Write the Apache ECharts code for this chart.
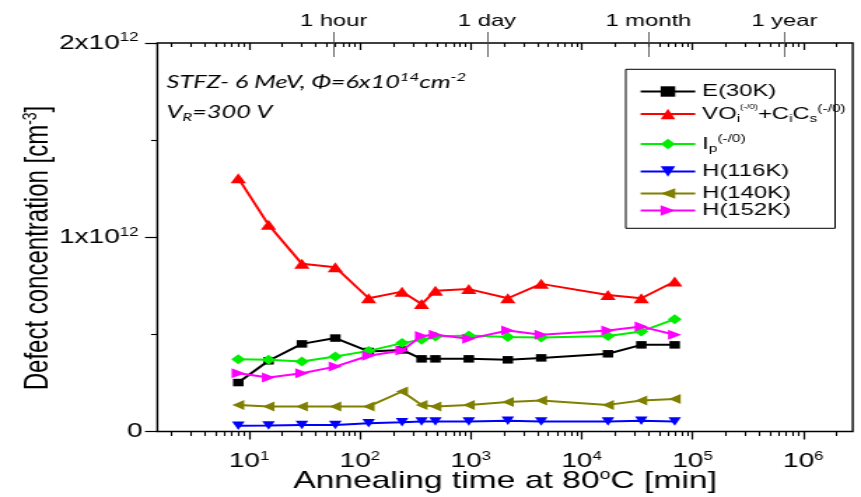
<!DOCTYPE html>
<html><head><meta charset="utf-8">
<script src="https://cdn.jsdelivr.net/npm/echarts@6/dist/echarts.min.js"></script>
<style>
html,body{margin:0;padding:0;background:#fff;overflow:hidden;}
#wrap{width:861px;height:497px;overflow:hidden;background:#fff;}
#chart{width:615px;height:497px;transform:scaleX(1.4);transform-origin:0 0;}
</style></head>
<body><div id="wrap"><div id="chart"></div></div>
<script>
// ---------- data ----------
const timesMin = [8, 15, 30, 60, 120, 240, 360, 480, 960, 2160, 4320, 17280, 34560, 69120];
// concentrations in units of 1e12 cm^-3
const E30K   = [0.252, 0.364, 0.451, 0.481, 0.412, 0.420, 0.374, 0.374, 0.374, 0.369, 0.379, 0.400, 0.446, 0.446];
const VOiCiCs= [1.304, 1.064, 0.863, 0.846, 0.686, 0.720, 0.656, 0.724, 0.733, 0.686, 0.760, 0.703, 0.686, 0.772];
const Ip     = [0.372, 0.369, 0.360, 0.386, 0.415, 0.455, 0.472, 0.489, 0.494, 0.487, 0.484, 0.492, 0.515, 0.578];
const H116K  = [0.029, 0.031, 0.034, 0.034, 0.043, 0.048, 0.051, 0.051, 0.051, 0.055, 0.051, 0.051, 0.055, 0.051];
const H140K  = [0.137, 0.129, 0.129, 0.129, 0.129, 0.206, 0.137, 0.129, 0.137, 0.152, 0.160, 0.137, 0.160, 0.167];
const H152K  = [0.300, 0.278, 0.300, 0.334, 0.390, 0.417, 0.492, 0.498, 0.477, 0.520, 0.498, 0.520, 0.540, 0.498];

const seriesNames = ['E(30K)', 'VOi+CiCs', 'Ip', 'H(116K)', 'H(140K)', 'H(152K)'];
const legendLabels = [
  'E(30K)',
  'VO{sub|i}{sups|(-/0)}+C{sub|i}C{sub|s}{sup|(-/0)}',
  'I{sub|p}{sup|(-/0)}',
  'H(116K)', 'H(140K)', 'H(152K)'
];
const xTickExponents = [1, 2, 3, 4, 5, 6];
const yTickValues = [0, 1, 2];           // x 1e12
const markerNames = ['1 hour', '1 day', '1 month', '1 year'];
const markerMinutes = [58, 1400, 40000, 675000];
const xRangeMin = 1.49, xRangeMax = 2.79e6;

// ---------- chart ----------
const F = 'Liberation Sans, Arial, sans-serif';
const log = Math.log10;
const xMinLog = log(xRangeMin), xMaxLog = log(xRangeMax);
const minorLogs = [];
for (let e = 0; e <= 6; e++) for (let m = 2; m <= 9; m++) {
  const v = log(m * Math.pow(10, e));
  if (v > xMinLog && v < xMaxLog) minorLogs.push(v);
}
const markerLogs = markerMinutes.map(log);

const colors = ['#000000', '#ff0000', '#00ee00', '#0000ff', '#808000', '#ff00ff'];
const symbols = ['rect', 'triangle', 'diamond', 'triangle', 'triangle', 'triangle'];
const rotates = [0, 0, 0, 180, 90, -90];
const sizes = [[7.5, 7.5], [11, 10], [10, 10], [9, 8.5], [10, 8.5], [10, 9.5]];
const values = [E30K, VOiCiCs, Ip, H116K, H140K, H152K];

const legendTops = [83, 103, 133, 163, 185, 202];

const xRich = {
  b: {fontFamily: F, fontSize: 20, color: '#000'},
  sup: {fontFamily: F, fontSize: 12, color: '#000', padding: [0, 0, 10, 0]}
};
const yRich = {
  b: {fontFamily: F, fontSize: 20, color: '#000'},
  sup: {fontFamily: F, fontSize: 12, color: '#000', padding: [0, 3, 10, 0]}
};

function xAxisBase(extra) {
  return Object.assign({
    type: 'value', min: xMinLog, max: xMaxLog, gridIndex: 0,
    axisLine: {show: false, onZero: false},
    splitLine: {show: false},
    axisLabel: {show: false},
    axisTick: {show: false}
  }, extra);
}

const option = {
  animation: false,
  backgroundColor: '#fff',
  grid: {left: 112.4, right: 5.9, top: 43, bottom: 65.5, show: true,
         outerBoundsMode: 'none', containLabel: false,
         borderColor: '#000', borderWidth: 1.4, backgroundColor: 'transparent'},
  xAxis: [
    xAxisBase({position: 'bottom',
      name: '{t|Annealing time at 80}{s|o}{t|C [min]}', nameLocation: 'middle', nameGap: 37,
      nameMoveOverlap: false,
      nameTextStyle: {rich: {t: {fontFamily: F, fontSize: 24, color: '#000'},
                             s: {fontFamily: F, fontSize: 14, color: '#000', padding: [0, 0, 12, 0]}}},
      axisTick: {show: true, customValues: xTickExponents, length: 8, inside: false,
                 lineStyle: {color: '#000', width: 1.2}},
      axisLabel: {show: true, customValues: xTickExponents, margin: 19, rich: xRich,
                  formatter: v => '{b|10}{sup|' + Math.round(v) + '}'}}),
    xAxisBase({position: 'bottom',
      axisTick: {show: true, customValues: minorLogs, length: 4.5, inside: false,
                 lineStyle: {color: '#000', width: 1.1}}}),
    xAxisBase({position: 'top',
      axisTick: {show: true, customValues: xTickExponents, length: 7, inside: true,
                 lineStyle: {color: '#000', width: 1.2}}}),
    xAxisBase({position: 'top',
      axisTick: {show: true, customValues: minorLogs, length: 4, inside: true,
                 lineStyle: {color: '#000', width: 1.1}}}),
    xAxisBase({position: 'top',
      axisTick: {show: true, customValues: markerLogs, length: 11, inside: false,
                 lineStyle: {color: '#444', width: 0.8}},
      axisLabel: {show: true, customValues: markerLogs, margin: 13,
                  fontFamily: F, fontSize: 17, color: '#000',
                  formatter: v => {
                    let best = 0;
                    markerLogs.forEach((m, i) => { if (Math.abs(m - v) < Math.abs(markerLogs[best] - v)) best = i; });
                    return markerNames[best];
                  }}}),
    xAxisBase({position: 'top',
      axisTick: {show: true, customValues: markerLogs, length: 14, inside: true,
                 lineStyle: {color: '#444', width: 0.8}}})
  ],
  yAxis: [{
    type: 'value', min: 0, max: 2, interval: 1, position: 'left',
    axisLine: {show: false},
    splitLine: {show: false},
    axisTick: {show: true, length: 8.8, inside: false, lineStyle: {color: '#000', width: 1.2}},
    minorTick: {show: true, splitNumber: 2, length: 4.5, lineStyle: {color: '#000', width: 1.1}},
    minorSplitLine: {show: false},
    axisLabel: {margin: 10.5, rich: yRich,
      formatter: v => v === 0 ? '{b|0}' : '{b|' + v + 'x10}{sup|12}'}
  }],
  legend: seriesNames.map((n, i) => ({
    data: [n], orient: 'vertical', left: 456.6, top: legendTops[i], padding: 0,
    itemWidth: 39, itemHeight: 13, itemGap: 0, selectedMode: false,
    formatter: () => legendLabels[i],
    textStyle: {fontFamily: F, fontSize: 17, color: '#000',
      rich: {
        sub: {fontFamily: F, fontSize: 11, color: '#000', padding: [9, 0, 0, 0]},
        sup: {fontFamily: F, fontSize: 11, color: '#000', padding: [0, 0, 11, 0]},
        sups: {fontFamily: F, fontSize: 7, color: '#000', padding: [0, 0, 14, 0]}
      }}
  })),
  graphic: [
    {type: 'rect', shape: {x: 447, y: 69.3, width: 149.5, height: 159}, z: 0,
     style: {fill: '#fff', stroke: '#000', lineWidth: 1}},
    {type: 'text', x: 27.7, y: 248, rotation: Math.PI / 2,
     style: {text: '{t|Defect concentration [cm}{s|-3}{t|]}', align: 'center', verticalAlign: 'middle',
             rich: {t: {fontFamily: F, fontSize: 24, fill: '#000', color: '#000'},
                    s: {fontFamily: F, fontSize: 14, fill: '#000', color: '#000', padding: [0, 0, 12, 0]}}}},
    {type: 'text', x: 119, y: 81.7,
     style: {text: '{t|STFZ- 6 MeV, Φ=6x10}{s|14}{t|cm}{s|-2}', align: 'left', verticalAlign: 'middle',
             rich: {t: {fontFamily: 'Lato', fontStyle: 'italic', fontSize: 18, fill: '#000', color: '#000'},
                    s: {fontFamily: 'Lato', fontStyle: 'italic', fontSize: 12, fill: '#000', color: '#000', padding: [0, 0, 10, 0]}}}},
    {type: 'text', x: 119, y: 111.7,
     style: {text: '{t|V}{s|R}{t|=300 V}', align: 'left', verticalAlign: 'middle',
             rich: {t: {fontFamily: 'Lato', fontStyle: 'italic', fontSize: 18, fill: '#000', color: '#000'},
                    s: {fontFamily: 'Lato', fontStyle: 'italic', fontSize: 12, fill: '#000', color: '#000', padding: [10, 0, 0, 0]}}}}
  ],
  series: seriesNames.map((n, i) => ({
    name: n, type: 'line', xAxisIndex: 0, yAxisIndex: 0,
    data: timesMin.map((t, j) => [log(t), values[i][j]]),
    symbol: symbols[i], symbolSize: sizes[i], symbolRotate: rotates[i],
    lineStyle: {color: colors[i], width: 2},
    itemStyle: {color: colors[i]},
    z: 3 + i
  }))
};

const chart = echarts.init(document.getElementById('chart'), null, {renderer: 'canvas'});
chart.setOption(option);
</script>
</body></html>
